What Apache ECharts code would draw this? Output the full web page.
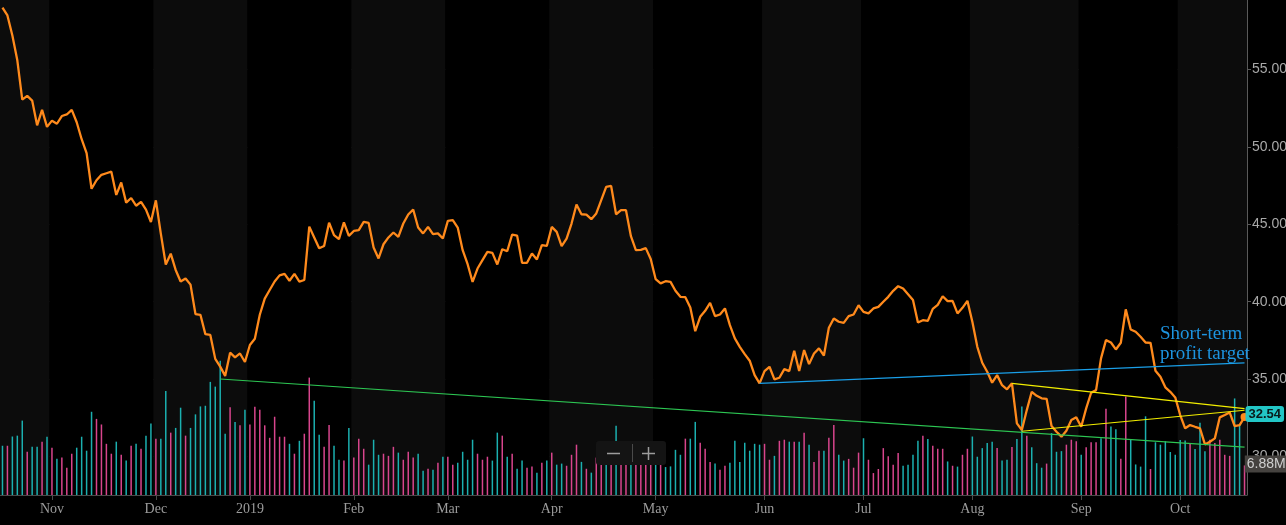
<!DOCTYPE html>
<html>
<head>
<meta charset="utf-8">
<script src="https://cdn.jsdelivr.net/npm/echarts@6/dist/echarts.min.js"></script>
<style>
  html, body { margin: 0; padding: 0; background: #000; }
  #chart { width: 1286px; height: 525px; }
</style>
</head>
<body>
<div id="chart"></div>
<script>
// trading days per month (Oct 18 2018 .. Oct 18 2019)
const tradingDays = [
  ['2018-10', '18 19 22 23 24 25 26 29 30 31'],
  ['2018-11', '1 2 5 6 7 8 9 12 13 14 15 16 19 20 21 23 26 27 28 29 30'],
  ['2018-12', '3 4 6 7 10 11 12 13 14 17 18 19 20 21 24 26 27 28 31'],
  ['2019-01', '2 3 4 7 8 9 10 11 14 15 16 17 18 22 23 24 25 28 29 30 31'],
  ['2019-02', '1 4 5 6 7 8 11 12 13 14 15 19 20 21 22 25 26 27 28'],
  ['2019-03', '1 4 5 6 7 8 11 12 13 14 15 18 19 20 21 22 25 26 27 28 29'],
  ['2019-04', '1 2 3 4 5 8 9 10 11 12 15 16 17 18 22 23 24 25 26 29 30'],
  ['2019-05', '1 2 3 6 7 8 9 10 13 14 15 16 17 20 21 22 23 24 28 29 30 31'],
  ['2019-06', '3 4 5 6 7 10 11 12 13 14 17 18 19 20 21 24 25 26 27 28'],
  ['2019-07', '1 2 3 5 8 9 10 11 12 15 16 17 18 19 22 23 24 25 26 29 30 31'],
  ['2019-08', '1 2 5 6 7 8 9 12 13 14 15 16 19 20 21 22 23 26 27 28 29 30'],
  ['2019-09', '3 4 5 6 9 10 11 12 13 16 17 18 19 20 23 24 25 26 27 30'],
  ['2019-10', '1 2 3 4 7 8 9 10 11 14 15 16 17 18']
];

const closes = [
  59.0, 58.5, 57.2, 55.6, 53.06, 53.3, 53.0, 51.4, 52.4, 51.3,
  51.7, 51.5, 52.0, 52.1, 52.4, 51.6, 50.5, 49.6, 47.3, 47.85,
  48.2, 48.3, 48.4, 46.9, 47.7, 46.4, 46.7, 46.2, 46.45, 45.95,
  45.15, 46.55, 44.4, 42.4, 43.1, 42.05, 41.3, 41.5, 41.1, 39.2,
  39.15, 37.9, 37.85, 36.3, 35.8, 35.2, 36.7, 36.4, 36.65, 36.1,
  37.2, 37.6, 39.15, 40.2, 40.75, 41.3, 41.7, 41.8, 41.35, 41.8,
  41.3, 41.4, 44.85, 44.15, 43.45, 43.6, 45.1, 44.3, 44.04, 45.12,
  44.25, 44.57, 44.62, 45.16, 45.09, 43.5, 42.79, 43.71, 44.15, 44.47,
  44.19, 45.05, 45.63, 45.96, 44.79, 44.41, 44.83, 44.36, 44.41, 44.08,
  45.22, 45.27, 44.79, 43.33, 42.42, 41.28, 42.14, 42.68, 43.22, 43.15,
  42.4, 43.39, 43.26, 44.34, 44.27, 42.51, 42.51, 43.11, 42.73, 43.65,
  43.6, 44.83, 44.51, 43.59, 44.08, 45.05, 46.28, 45.65, 45.63, 45.33,
  45.7, 46.56, 47.42, 47.48, 45.65, 45.91, 45.91, 44.23, 43.33, 43.35,
  43.46, 42.76, 41.45, 41.18, 41.32, 41.28, 40.7, 40.31, 40.29, 39.62,
  38.09, 39.02, 39.41, 39.92, 39.06, 39.17, 39.56, 38.48, 37.62, 37.08,
  36.61, 36.18, 35.25, 34.72, 35.51, 35.79, 34.97, 35.08, 35.64, 35.51,
  36.82, 35.51, 36.87, 35.96, 36.65, 36.98, 36.52, 38.31, 38.91, 38.7,
  38.63, 39.06, 39.17, 39.77, 39.34, 39.24, 39.56, 39.66, 39.99, 40.31,
  40.7, 41.0, 40.85, 40.48, 40.1, 38.65, 38.8, 38.76, 39.53, 39.79,
  40.35, 40.03, 40.05, 39.24, 39.6, 40.05, 38.7, 37.08, 36.05, 35.47,
  34.76, 35.25, 34.6, 34.33, 34.72, 32.13, 31.7, 32.99, 34.17, 33.91,
  33.75, 33.72, 31.96, 31.59, 31.27, 31.66, 32.35, 32.52, 31.91, 33.1,
  34.11, 34.28, 36.33, 37.51, 37.36, 36.91, 37.34, 39.5, 38.2, 38.05,
  37.73, 37.36, 37.34, 35.53, 35.14, 34.46, 34.17, 33.81, 32.67, 31.81,
  32.02, 31.91, 31.81, 30.77, 30.94, 31.16, 32.52, 32.67, 32.84, 31.96,
  32.02, 32.54
];

// volume in millions
const volumes = [
  11.45, 11.45, 13.6, 13.8, 17.3, 10.05, 11.2, 11.2, 12.4, 13.55,
  11.0, 8.4, 8.7, 6.35, 9.6, 11.0, 13.55, 10.3, 19.35, 17.7,
  16.4, 11.9, 9.6, 12.4, 9.35, 8.0, 11.45, 11.9, 10.75, 13.8,
  16.6, 13.1, 13.1, 24.2, 14.5, 15.6, 20.3, 13.8, 15.6, 18.75,
  20.6, 20.75, 26.3, 25.2, 31.2, 14.25, 20.4, 17.0, 16.2, 19.8,
  16.4, 20.5, 19.8, 16.2, 13.3, 18.2, 13.55, 13.55, 11.9, 9.6,
  12.6, 14.25, 27.3, 21.9, 14.0, 11.2, 16.3, 11.45, 8.2, 8.0,
  15.6, 8.7, 13.1, 10.75, 7.05, 12.85, 9.35, 9.6, 9.1, 11.2,
  9.85, 8.2, 10.05, 8.7, 9.6, 5.65, 6.1, 5.9, 7.5, 8.9,
  8.9, 7.05, 7.5, 10.05, 8.2, 12.85, 9.6, 8.2, 8.9, 8.0,
  14.5, 13.8, 8.9, 9.6, 6.1, 8.0, 6.35, 6.6, 5.2, 7.5,
  8.0, 9.85, 7.05, 7.3, 6.8, 9.35, 11.7, 7.7, 6.1, 5.2,
  8.7, 8.5, 7.8, 8.0, 16.1, 7.5, 8.8, 7.2, 8.0, 7.7,
  8.3, 7.0, 8.5, 7.8, 6.5, 6.65, 10.5, 9.35, 13.1, 13.1,
  17.0, 12.15, 10.75, 7.7, 7.3, 5.9, 6.8, 7.5, 12.6, 7.7,
  12.15, 10.3, 11.9, 11.7, 11.9, 8.2, 9.1, 12.6, 12.85, 12.4,
  12.4, 12.4, 14.5, 11.7, 7.7, 10.3, 10.3, 13.3, 16.3, 9.35,
  8.0, 8.4, 6.35, 9.85, 13.2, 8.2, 5.1, 6.05, 10.9, 9.0,
  7.05, 9.75, 6.8, 7.05, 9.35, 12.6, 13.8, 13.0, 11.45, 10.75,
  10.75, 7.8, 6.8, 6.6, 9.35, 10.75, 13.6, 8.9, 10.9, 12.1,
  12.4, 10.9, 8.0, 8.2, 11.15, 13.0, 20.6, 13.8, 11.1, 7.4,
  6.35, 7.3, 14.4, 10.05, 10.2, 11.7, 12.85, 12.5, 9.35, 11.1,
  12.25, 12.25, 13.2, 20.05, 15.95, 15.3, 8.4, 22.9, 13.0, 7.1,
  6.6, 18.3, 6.05, 12.25, 11.7, 12.5, 10.0, 9.35, 12.8, 12.7,
  11.85, 10.7, 16.8, 10.2, 12.85, 12.1, 12.85, 9.35, 9.1, 22.45,
  16.3, 6.88
];

// u = up day (teal), d = down day (pink)
const volumeDir = [
  'uduuuduudu', 'duddduuuud', 'dddudududu', 'uduuduuduu', 'uuuuuududu',
  'ddddddddud', 'udduudduud', 'uddduuuddd', 'uddduududu', 'dduuuudddu',
  'ududuuddud', 'uduudddudu', 'ddududdudd', 'dduduuuudu', 'udddudduuu',
  'uuuudduddu', 'dududduddu', 'uddduddddd', 'dduuuududd', 'dududduuuu',
  'uduuduuduu', 'uduuudddud', 'dduduudduu', 'uuduuuuuuu', 'duuudddddu',
  'ud'
].join('');

const priceTicks = [30, 35, 40, 45, 50, 55];

// trend lines: [date, price] endpoints
const supportLine = [['2018-12-21', 35.0], ['2019-10-18', 30.6]];
const targetLine = [['2019-05-31', 34.72], ['2019-10-18', 36.04]];
const wedgeUpper = [['2019-08-13', 34.72], ['2019-10-18', 33.08]];
const wedgeLower = [['2019-08-15', 31.62], ['2019-10-18', 32.98]];

const monthNames = ['Jan', 'Feb', 'Mar', 'Apr', 'May', 'Jun', 'Jul', 'Aug', 'Sep', 'Oct', 'Nov', 'Dec'];

const dates = [];
tradingDays.forEach(([ym, days]) => {
  days.split(' ').forEach(d => dates.push(ym + '-' + d.padStart(2, '0')));
});

function isMonthStart(i) {
  return i > 0 && dates[i].slice(0, 7) !== dates[i - 1].slice(0, 7);
}

function monthLabel(value) {
  const m = +value.slice(5, 7);
  return m === 1 ? value.slice(0, 4) : monthNames[m - 1];
}

const UP = '#1bb0b0';
const DOWN = '#d8458d';
const ORANGE = '#ff8a1c';
const SANS = '"Liberation Sans", Arial, sans-serif';

const volumeData = volumes.map((v, i) => {
  const item = { value: v, itemStyle: { color: volumeDir[i] === 'u' ? UP : DOWN } };
  if (i === volumes.length - 1) {
    item.label = {
      show: true,
      position: [1, -10],
      align: 'left',
      verticalAlign: 'top',
      formatter: p => p.value.toFixed(2) + 'M',
      backgroundColor: '#45423f',
      color: '#cfcfcf',
      fontFamily: SANS,
      fontSize: 14,
      padding: [2, 3, 1, 2]
    };
  }
  return item;
});

const priceData = closes.map((v, i) => {
  if (i < closes.length - 1) return v;
  return {
    value: v,
    symbol: 'circle',
    symbolSize: 8,
    itemStyle: { color: ORANGE },
    label: {
      show: true,
      position: 'right',
      distance: -3,
      offset: [0, -3],
      formatter: p => p.value.toFixed(2),
      backgroundColor: '#22c6c6',
      borderRadius: 3,
      color: '#0a1a1a',
      fontFamily: SANS,
      fontWeight: 'bold',
      fontSize: 13,
      padding: [2, 3, 1, 3]
    }
  };
});

function trend(pts, color) {
  const style = { color: color, width: 1.2, type: 'solid' };
  return [
    { coord: pts[0], lineStyle: style },
    { coord: pts[1], lineStyle: style }
  ];
}

const chart = echarts.init(document.getElementById('chart'));

chart.setOption({
  backgroundColor: '#000',
  animation: false,
  grid: { left: 0, right: 39, top: 0, bottom: 30, outerBoundsMode: 'none', containLabel: false },
  xAxis: {
    type: 'category',
    data: dates,
    boundaryGap: true,
    axisLine: { onZero: false, lineStyle: { color: '#4a4a4a' } },
    axisTick: {
      show: true,
      interval: isMonthStart,
      alignWithLabel: true,
      length: 5,
      lineStyle: { color: '#4a4a4a' }
    },
    axisLabel: {
      interval: isMonthStart,
      formatter: monthLabel,
      color: '#9b9b9b',
      fontFamily: 'Liberation Serif',
      fontSize: 14,
      margin: 7
    },
    splitLine: { show: false },
    splitArea: {
      show: true,
      interval: isMonthStart,
      areaStyle: { color: ['#0c0c0c', '#000000'] }
    }
  },
  yAxis: [
    {
      type: 'value',
      position: 'right',
      min: 27.5,
      max: 59.5,
      splitNumber: 6,
      axisLine: { show: true, lineStyle: { color: '#5a5a5a' } },
      axisTick: { show: true, length: 4, lineStyle: { color: '#5a5a5a' } },
      axisLabel: {
        color: '#a8a8a8',
        fontFamily: SANS,
        fontSize: 14,
        margin: 5,
        showMinLabel: false,
        showMaxLabel: false,
        formatter: v => priceTicks.includes(v) ? v.toFixed(2) : ''
      },
      splitLine: {
        showMinLine: false,
        showMaxLine: false,
        lineStyle: { color: '#1c1c1c' }
      }
    },
    {
      type: 'value',
      min: 0,
      max: 115.1,
      show: false,
      splitLine: { show: false }
    }
  ],
  series: [
    {
      name: 'Volume',
      type: 'bar',
      yAxisIndex: 1,
      barWidth: 1.5,
      data: volumeData,
      z: 2
    },
    {
      name: 'Price',
      type: 'line',
      yAxisIndex: 0,
      data: priceData,
      symbol: 'none',
      showAllSymbol: true,
      lineStyle: { color: ORANGE, width: 2.3 },
      itemStyle: { color: ORANGE },
      z: 3,
      markLine: {
        silent: true,
        symbol: ['none', 'none'],
        label: { show: false },
        data: [
          trend(supportLine, '#2dc653'),
          trend(targetLine, '#1a9fe8'),
          trend(wedgeUpper, '#f2ee00'),
          trend(wedgeLower, '#f2ee00')
        ]
      }
    }
  ],
  graphic: [
    {
      type: 'rect',
      shape: { x: 596, y: 441, width: 70, height: 24, r: 3 },
      style: { fill: '#141414' },
      z: 100
    },
    {
      type: 'line',
      shape: { x1: 607, y1: 453.5, x2: 620, y2: 453.5 },
      style: { stroke: '#9c9c9c', lineWidth: 1.5 },
      z: 101
    },
    {
      type: 'line',
      shape: { x1: 632.5, y1: 444, x2: 632.5, y2: 462 },
      style: { stroke: '#4a4a4a', lineWidth: 1 },
      z: 101
    },
    {
      type: 'line',
      shape: { x1: 642, y1: 453.5, x2: 655, y2: 453.5 },
      style: { stroke: '#9c9c9c', lineWidth: 1.5 },
      z: 101
    },
    {
      type: 'line',
      shape: { x1: 648.5, y1: 447, x2: 648.5, y2: 460 },
      style: { stroke: '#9c9c9c', lineWidth: 1.5 },
      z: 101
    },
    {
      type: 'text',
      left: 1160,
      top: 324,
      style: {
        text: 'Short-term\nprofit target',
        fill: '#1d94e0',
        font: '19px "Liberation Serif"',
        lineHeight: 20
      },
      z: 101
    }
  ]
});
</script>
</body>
</html>
